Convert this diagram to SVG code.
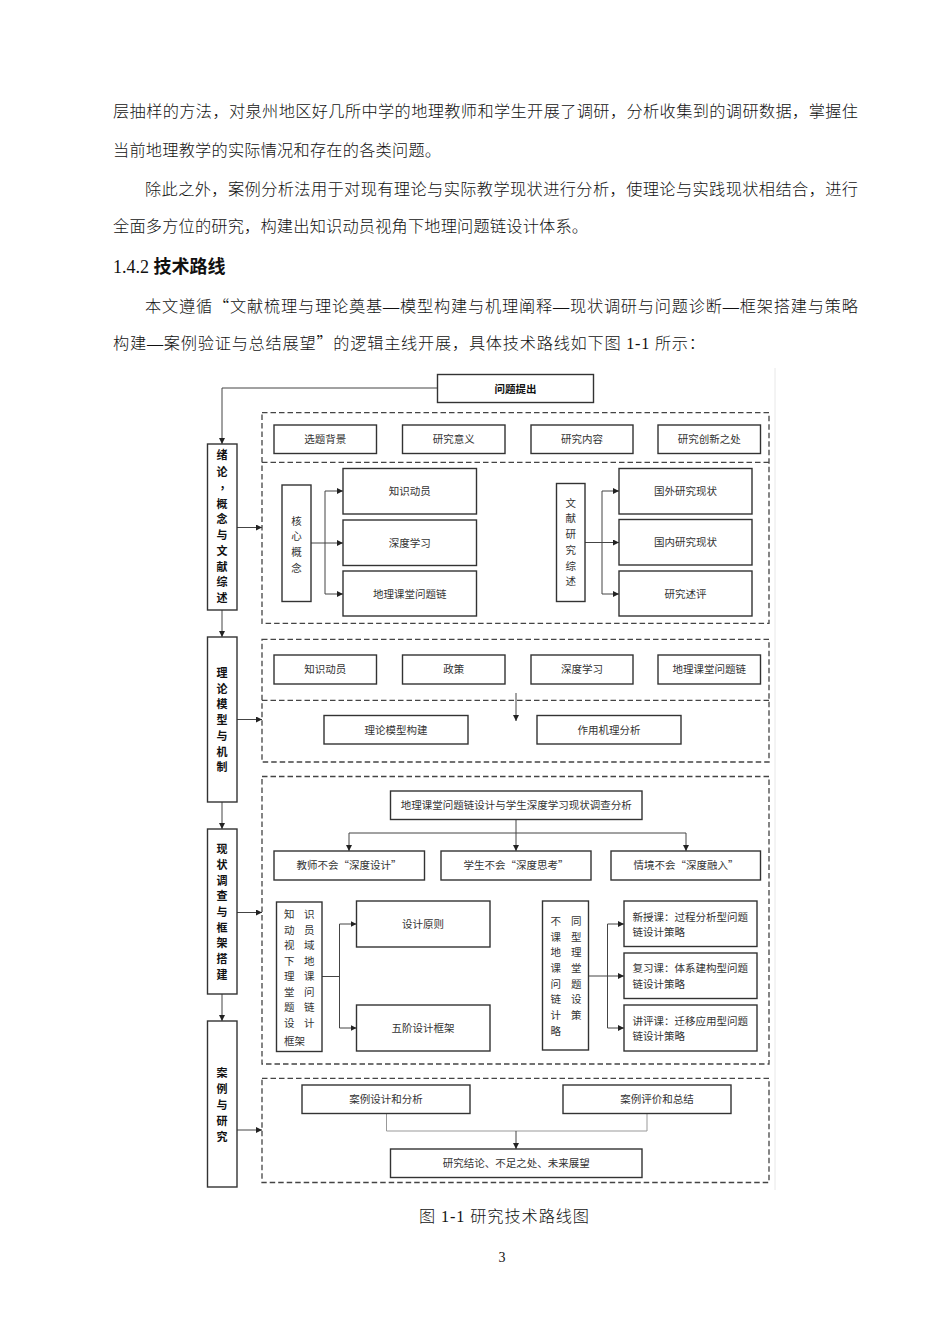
<svg xmlns="http://www.w3.org/2000/svg" width="950" height="1344" viewBox="0 0 950 1344">
<defs>
<style>
.body{font-family:"Liberation Serif","Noto Sans CJK SC",serif;font-size:16.2px;fill:#111;font-weight:300}
.head{font-family:"Liberation Serif","Noto Sans CJK SC",serif;font-size:18px;fill:#111}
.hz{font-family:"Noto Sans CJK SC",sans-serif;font-weight:bold}
.cj{font-family:"Noto Sans CJK SC",sans-serif}
.lb{font-family:"Liberation Serif","Noto Sans CJK SC",serif;font-size:10.5px;fill:#333;text-anchor:middle}
.lbl{font-family:"Liberation Serif","Noto Sans CJK SC",serif;font-size:10.5px;fill:#333}
.side{font-family:"Liberation Serif","Noto Sans CJK SC",serif;font-size:11px;font-weight:bold;fill:#111;text-anchor:middle}
.box{fill:#fff;stroke:#333;stroke-width:1.4}
.dash{fill:none;stroke:#444;stroke-width:1.3;stroke-dasharray:5.5 3}
.ln{fill:none;stroke:#444;stroke-width:1}
.arr{fill:none;stroke:#444;stroke-width:1;marker-end:url(#ah)}
.gl{fill:none;stroke:#999;stroke-width:1}
</style>
<marker id="ah" markerWidth="6" markerHeight="6" refX="6" refY="3" orient="auto" markerUnits="userSpaceOnUse"><path d="M0,0 L6,3 L0,6 z" fill="#222"/></marker>
</defs>
<rect width="950" height="1344" fill="#fff"/>

<g id="body-text">
<text class="body" x="113" y="117" textLength="745" lengthAdjust="spacing">层抽样的方法，对泉州地区好几所中学的地理教师和学生开展了调研，分析收集到的调研数据，掌握住</text>
<text class="body" x="113" y="155.5" textLength="328" lengthAdjust="spacing">当前地理教学的实际情况和存在的各类问题。</text>
<text class="body" x="145" y="194.5" textLength="713" lengthAdjust="spacing">除此之外，案例分析法用于对现有理论与实际教学现状进行分析，使理论与实践现状相结合，进行</text>
<text class="body" x="113" y="232" textLength="475" lengthAdjust="spacing">全面多方位的研究，构建出知识动员视角下地理问题链设计体系。</text>
<text class="head" x="113" y="273">1.4.2 <tspan class="hz">技术路线</tspan></text>
<text class="body" x="145" y="311.5" textLength="713" lengthAdjust="spacing">本文遵循<tspan class="cj">“</tspan>文献梳理与理论奠基—模型构建与机理阐释—现状调研与问题诊断—框架搭建与策略</text>
<text class="body" x="113" y="349" textLength="592" lengthAdjust="spacing">构建—案例验证与总结展望<tspan class="cj">”</tspan>的逻辑主线开展，具体技术路线如下图 1-1 所示：</text>
</g>

<line x1="775" y1="368" x2="775" y2="1190" stroke="#e8e8e8" stroke-width="1"/>

<g id="connectors">
<polyline class="arr" points="437,388 222,388 222,444"/>
<line class="arr" x1="222" y1="610" x2="222" y2="637"/>
<line class="arr" x1="222" y1="802" x2="222" y2="829"/>
<line class="arr" x1="222" y1="994" x2="222" y2="1021"/>
<line class="arr" x1="237" y1="527.5" x2="262" y2="527.5"/>
<line class="arr" x1="237" y1="719.5" x2="262" y2="719.5"/>
<line class="arr" x1="237" y1="912.5" x2="262" y2="912.5"/>
<line class="arr" x1="237" y1="1130" x2="262" y2="1130"/>
<line class="ln" x1="311" y1="543" x2="325" y2="543"/>
<line class="ln" x1="325" y1="491" x2="325" y2="594"/>
<line class="arr" x1="325" y1="491" x2="343" y2="491"/>
<line class="arr" x1="325" y1="543" x2="343" y2="543"/>
<line class="arr" x1="325" y1="594" x2="343" y2="594"/>
<line class="ln" x1="585" y1="542.5" x2="602" y2="542.5"/>
<line class="ln" x1="602" y1="491" x2="602" y2="594"/>
<line class="arr" x1="602" y1="491" x2="619" y2="491"/>
<line class="arr" x1="602" y1="542.5" x2="619" y2="542.5"/>
<line class="arr" x1="602" y1="594" x2="619" y2="594"/>
<line class="arr" x1="516" y1="693" x2="516" y2="721"/>
<line class="ln" x1="516" y1="819" x2="516" y2="833"/>
<line class="ln" x1="349" y1="833" x2="686" y2="833"/>
<line class="arr" x1="349" y1="833" x2="349" y2="851"/>
<line class="arr" x1="516" y1="833" x2="516" y2="851"/>
<line class="arr" x1="686" y1="833" x2="686" y2="851"/>
<line class="ln" x1="322" y1="976.5" x2="339.5" y2="976.5"/>
<line class="ln" x1="339.5" y1="924" x2="339.5" y2="1028"/>
<line class="arr" x1="339.5" y1="924" x2="356.5" y2="924"/>
<line class="arr" x1="339.5" y1="1028" x2="356.5" y2="1028"/>
<line class="ln" x1="588.5" y1="976" x2="607.5" y2="976"/>
<line class="ln" x1="607.5" y1="924" x2="607.5" y2="1028"/>
<line class="arr" x1="607.5" y1="924" x2="624" y2="924"/>
<line class="arr" x1="607.5" y1="976" x2="624" y2="976"/>
<line class="arr" x1="607.5" y1="1028" x2="624" y2="1028"/>
<polyline class="gl" points="386.5,1113 386.5,1131 647,1131 647,1113"/>
<line class="arr" x1="516" y1="1131" x2="516" y2="1149"/>
</g>

<g id="sections">
<rect class="dash" x="262" y="412.7" width="507" height="210.6"/>
<line class="dash" x1="262" y1="462.3" x2="769" y2="462.3"/>
<rect class="dash" x="262" y="639.3" width="507" height="122.7"/>
<line class="dash" x1="262" y1="700.3" x2="769" y2="700.3"/>
<rect class="dash" x="262" y="776.5" width="507" height="287.5"/>
<rect class="dash" x="262" y="1078.3" width="507" height="104.2"/>
</g>

<g id="n-wenti"><rect class="box" x="437.5" y="374.5" width="156" height="28"/><text class="lb" x="515.5" y="392.5" style="font-weight:bold;fill:#111">问题提出</text></g>

<g id="n-xulun"><rect class="box" x="207.5" y="444" width="29.5" height="166"/>
<text class="side" x="222" y="459">绪</text><text class="side" x="222" y="475.5">论</text><text class="side" x="225" y="488.5">，</text><text class="side" x="222" y="507.5">概</text><text class="side" x="222" y="523">念</text><text class="side" x="222" y="539">与</text><text class="side" x="222" y="555">文</text><text class="side" x="222" y="570.7">献</text><text class="side" x="222" y="586.3">综</text><text class="side" x="222" y="602.3">述</text></g>

<g id="n-lilun"><rect class="box" x="207.5" y="637" width="29.5" height="165"/>
<text class="side" x="222" y="676.7">理</text><text class="side" x="222" y="692.5">论</text><text class="side" x="222" y="708.3">模</text><text class="side" x="222" y="724">型</text><text class="side" x="222" y="740">与</text><text class="side" x="222" y="755.7">机</text><text class="side" x="222" y="771.3">制</text></g>

<g id="n-xianzhuang"><rect class="box" x="207.5" y="829" width="29.5" height="165"/>
<text class="side" x="222" y="853.3">现</text><text class="side" x="222" y="869">状</text><text class="side" x="222" y="884.7">调</text><text class="side" x="222" y="900.3">查</text><text class="side" x="222" y="916">与</text><text class="side" x="222" y="931.7">框</text><text class="side" x="222" y="947.3">架</text><text class="side" x="222" y="963">搭</text><text class="side" x="222" y="978.7">建</text></g>

<g id="n-anli"><rect class="box" x="207.5" y="1021" width="29.5" height="166"/>
<text class="side" x="222" y="1077.3">案</text><text class="side" x="222" y="1093.3">例</text><text class="side" x="222" y="1108.7">与</text><text class="side" x="222" y="1124.7">研</text><text class="side" x="222" y="1141">究</text></g>

<g id="n-bg"><rect class="box" x="274" y="425" width="102.5" height="28.5"/><text class="lb" x="325.3" y="443">选题背景</text></g>
<g id="n-yiyi"><rect class="box" x="402.5" y="425" width="102.5" height="28.5"/><text class="lb" x="453.7" y="443">研究意义</text></g>
<g id="n-neirong"><rect class="box" x="531" y="425" width="102" height="28.5"/><text class="lb" x="582" y="443">研究内容</text></g>
<g id="n-chuangxin"><rect class="box" x="658" y="425" width="102.5" height="28.5"/><text class="lb" x="709.3" y="443">研究创新之处</text></g>

<g id="n-hexin"><rect class="box" x="282" y="485" width="29" height="116.5"/>
<text class="lb" x="296.5" y="524.5">核</text><text class="lb" x="296.5" y="540.2">心</text><text class="lb" x="296.5" y="556">概</text><text class="lb" x="296.5" y="571.5">念</text></g>
<g id="n-zsdy1"><rect class="box" x="343" y="468.5" width="133.5" height="45.5"/><text class="lb" x="409.7" y="495">知识动员</text></g>
<g id="n-sdxx1"><rect class="box" x="343" y="520" width="133.5" height="45.5"/><text class="lb" x="409.7" y="547">深度学习</text></g>
<g id="n-dlkt1"><rect class="box" x="343" y="571" width="133.5" height="45"/><text class="lb" x="409.7" y="597.5">地理课堂问题链</text></g>

<g id="n-wenxian"><rect class="box" x="556.5" y="483.5" width="28.5" height="118"/>
<text class="lb" x="570.7" y="506.5">文</text><text class="lb" x="570.7" y="522.3">献</text><text class="lb" x="570.7" y="538.1">研</text><text class="lb" x="570.7" y="553.8">究</text><text class="lb" x="570.7" y="569.6">综</text><text class="lb" x="570.7" y="585.4">述</text></g>
<g id="n-guowai"><rect class="box" x="619" y="468.5" width="133" height="45.5"/><text class="lb" x="685.5" y="495">国外研究现状</text></g>
<g id="n-guonei"><rect class="box" x="619" y="519.5" width="133" height="45.5"/><text class="lb" x="685.5" y="546">国内研究现状</text></g>
<g id="n-shuping"><rect class="box" x="619" y="571" width="133" height="45"/><text class="lb" x="685.5" y="597.5">研究述评</text></g>

<g id="n-zsdy2"><rect class="box" x="274" y="655" width="102.5" height="29"/><text class="lb" x="325.3" y="673.3">知识动员</text></g>
<g id="n-zhengce"><rect class="box" x="402.5" y="655" width="102.5" height="29"/><text class="lb" x="453.7" y="673.3">政策</text></g>
<g id="n-sdxx2"><rect class="box" x="531" y="655" width="102" height="29"/><text class="lb" x="582" y="673.3">深度学习</text></g>
<g id="n-dlkt2"><rect class="box" x="658" y="655" width="102.5" height="29"/><text class="lb" x="709.3" y="673.3">地理课堂问题链</text></g>
<g id="n-moxing"><rect class="box" x="324" y="715.5" width="144" height="28.5"/><text class="lb" x="396" y="733.5">理论模型构建</text></g>
<g id="n-jili"><rect class="box" x="537" y="715.5" width="144" height="28.5"/><text class="lb" x="609" y="733.5">作用机理分析</text></g>

<g id="n-diaocha"><rect class="box" x="390.5" y="791" width="251.5" height="28.5"/><text class="lb" x="516.2" y="809">地理课堂问题链设计与学生深度学习现状调查分析</text></g>
<g id="n-jiaoshi"><rect class="box" x="274" y="851" width="150.5" height="29"/><text class="lb" x="349" y="869.3">教师不会<tspan class="cj">“</tspan>深度设计<tspan class="cj">”</tspan></text></g>
<g id="n-xuesheng"><rect class="box" x="441" y="851" width="150" height="29"/><text class="lb" x="516" y="869.3">学生不会<tspan class="cj">“</tspan>深度思考<tspan class="cj">”</tspan></text></g>
<g id="n-qingjing"><rect class="box" x="611" y="851" width="149.5" height="29"/><text class="lb" x="686" y="869.3">情境不会<tspan class="cj">“</tspan>深度融入<tspan class="cj">”</tspan></text></g>

<g id="n-kuangjia"><rect class="box" x="276.5" y="902" width="45.5" height="149.5"/>
<text class="lbl"><tspan x="284" y="918.3">知</tspan><tspan x="304" y="918.3">识</tspan><tspan x="284" y="933.8">动</tspan><tspan x="304" y="933.8">员</tspan><tspan x="284" y="949.3">视</tspan><tspan x="304" y="949.3">域</tspan><tspan x="284" y="964.8">下</tspan><tspan x="304" y="964.8">地</tspan><tspan x="284" y="980.3">理</tspan><tspan x="304" y="980.3">课</tspan><tspan x="284" y="995.8">堂</tspan><tspan x="304" y="995.8">问</tspan><tspan x="284" y="1011.3">题</tspan><tspan x="304" y="1011.3">链</tspan><tspan x="284" y="1026.8">设</tspan><tspan x="304" y="1026.8">计</tspan><tspan x="284" y="1044.5">框架</tspan></text></g>
<g id="n-yuanze"><rect class="box" x="356.5" y="901" width="133.5" height="46"/><text class="lb" x="423" y="928">设计原则</text></g>
<g id="n-wujie"><rect class="box" x="356.5" y="1005" width="133.5" height="46"/><text class="lb" x="423" y="1031.5">五阶设计框架</text></g>

<g id="n-celue"><rect class="box" x="542.5" y="901" width="46" height="149"/>
<text class="lbl"><tspan x="550.5" y="924.8">不</tspan><tspan x="571" y="924.8">同</tspan><tspan x="550.5" y="940.5">课</tspan><tspan x="571" y="940.5">型</tspan><tspan x="550.5" y="956.1">地</tspan><tspan x="571" y="956.1">理</tspan><tspan x="550.5" y="971.8">课</tspan><tspan x="571" y="971.8">堂</tspan><tspan x="550.5" y="987.5">问</tspan><tspan x="571" y="987.5">题</tspan><tspan x="550.5" y="1003.1">链</tspan><tspan x="571" y="1003.1">设</tspan><tspan x="550.5" y="1018.8">计</tspan><tspan x="571" y="1018.8">策</tspan><tspan x="550.5" y="1034.5">略</tspan></text></g>
<g id="n-xinshou"><rect class="box" x="624" y="901" width="133" height="45.5"/><text class="lbl"><tspan x="632.5" y="920.5">新授课：过程分析型问题</tspan><tspan x="632.5" y="936.2">链设计策略</tspan></text></g>
<g id="n-fuxi"><rect class="box" x="624" y="953" width="133" height="45.5"/><text class="lbl"><tspan x="632.5" y="972.2">复习课：体系建构型问题</tspan><tspan x="632.5" y="987.9">链设计策略</tspan></text></g>
<g id="n-jiangping"><rect class="box" x="624" y="1005" width="133" height="46"/><text class="lbl"><tspan x="632.5" y="1024.5">讲评课：迁移应用型问题</tspan><tspan x="632.5" y="1040.2">链设计策略</tspan></text></g>

<g id="n-anlisheji"><rect class="box" x="302" y="1085" width="168" height="28.5"/><text class="lb" x="386" y="1103">案例设计和分析</text></g>
<g id="n-anlipingjia"><rect class="box" x="563" y="1085" width="168" height="28.5"/><text class="lb" x="657" y="1103">案例评价和总结</text></g>
<g id="n-jielun"><rect class="box" x="390.5" y="1149" width="251.5" height="28.5"/><text class="lb" x="516.2" y="1167">研究结论、不足之处、未来展望</text></g>

<text class="body" x="504" y="1221.5" text-anchor="middle" textLength="170" lengthAdjust="spacing">图 1-1 研究技术路线图</text>
<text x="502" y="1262" text-anchor="middle" style="font-family:'Liberation Serif',serif;font-size:14px;fill:#111">3</text>
</svg>
